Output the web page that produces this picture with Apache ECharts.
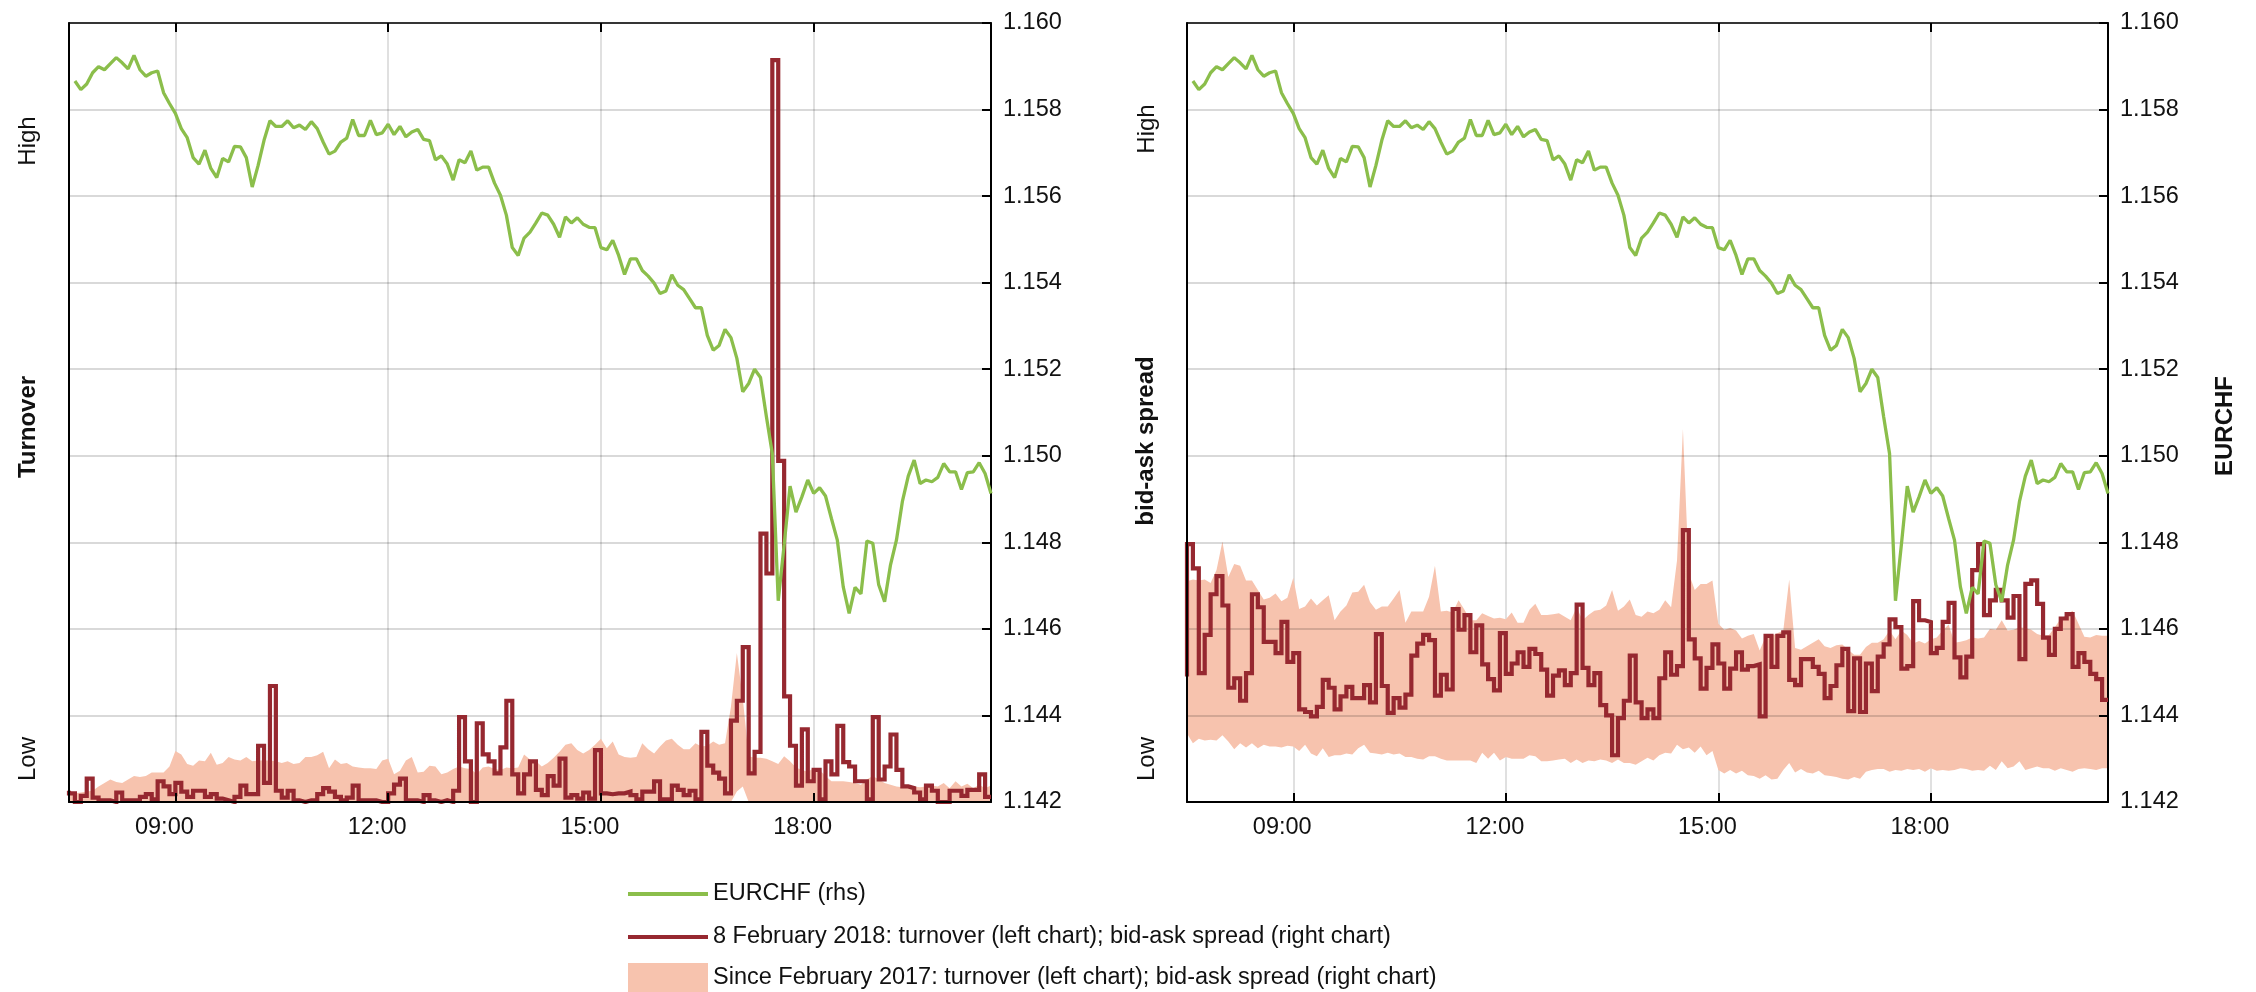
<!DOCTYPE html>
<html><head><meta charset="utf-8">
<script src="https://cdn.jsdelivr.net/npm/echarts@6/dist/echarts.min.js"></script>
<style>html,body{margin:0;padding:0;background:#fff}#c{width:2256px;height:992px}</style>
</head><body><div id="c"></div>
<script>
const times = [
"07:30","07:35","07:40","07:45","07:50","07:55",
"08:00","08:05","08:10","08:15","08:20","08:25","08:30","08:35","08:40","08:45","08:50","08:55",
"09:00","09:05","09:10","09:15","09:20","09:25","09:30","09:35","09:40","09:45","09:50","09:55",
"10:00","10:05","10:10","10:15","10:20","10:25","10:30","10:35","10:40","10:45","10:50","10:55",
"11:00","11:05","11:10","11:15","11:20","11:25","11:30","11:35","11:40","11:45","11:50","11:55",
"12:00","12:05","12:10","12:15","12:20","12:25","12:30","12:35","12:40","12:45","12:50","12:55",
"13:00","13:05","13:10","13:15","13:20","13:25","13:30","13:35","13:40","13:45","13:50","13:55",
"14:00","14:05","14:10","14:15","14:20","14:25","14:30","14:35","14:40","14:45","14:50","14:55",
"15:00","15:05","15:10","15:15","15:20","15:25","15:30","15:35","15:40","15:45","15:50","15:55",
"16:00","16:05","16:10","16:15","16:20","16:25","16:30","16:35","16:40","16:45","16:50","16:55",
"17:00","17:05","17:10","17:15","17:20","17:25","17:30","17:35","17:40","17:45","17:50","17:55",
"18:00","18:05","18:10","18:15","18:20","18:25","18:30","18:35","18:40","18:45","18:50","18:55",
"19:00","19:05","19:10","19:15","19:20","19:25","19:30","19:35","19:40","19:45","19:50","19:55",
"20:00","20:05","20:10","20:15","20:20","20:25","20:30"];
const tickLabels = ["09:00","12:00","15:00","18:00"];
const priceTicks = {min: 1.142, max: 1.160, step: 0.002};

// EURCHF rate (right-hand scale)
const eurchf = [null,
1.15866,1.15846,1.15859,1.15885,1.15899,1.15892,1.15906,1.15920,1.15908,1.15894,
1.15925,1.15892,1.15877,1.15885,1.15889,1.15839,1.15814,1.15791,1.15756,1.15735,
1.15689,1.15674,1.15706,1.15664,1.15643,1.15687,1.15679,1.15715,1.15714,1.15689,
1.15621,1.15671,1.15729,1.15774,1.15761,1.15761,1.15774,1.15758,1.15764,1.15754,
1.15772,1.15756,1.15725,1.15697,1.15704,1.15725,1.15734,1.15777,1.15740,1.15740,
1.15775,1.15742,1.15746,1.15766,1.15742,1.15761,1.15737,1.15748,1.15754,1.15731,
1.15728,1.15684,1.15693,1.15674,1.15637,1.15684,1.15677,1.15704,1.15660,1.15667,
1.15667,1.15630,1.15602,1.15556,1.15481,1.15463,1.15503,1.15517,1.15538,1.15561,
1.15556,1.15535,1.15505,1.15552,1.15538,1.15550,1.15535,1.15528,1.15527,1.15481,
1.15476,1.15498,1.15463,1.15419,1.15455,1.15455,1.15428,1.15415,1.15399,1.15375,
1.15381,1.15418,1.15394,1.15384,1.15363,1.15342,1.15342,1.15278,1.15244,1.15255,
1.15292,1.15273,1.15225,1.15148,1.15167,1.15200,1.15181,1.15090,1.15005,1.14665,
1.14794,1.14930,1.14870,1.14905,1.14944,1.14913,1.14926,1.14907,1.14855,1.14805,
1.14697,1.14636,1.14696,1.14681,1.14803,1.14798,1.14702,1.14663,1.14748,1.14805,
1.14894,1.14953,1.14990,1.14936,1.14944,1.14940,1.14950,1.14982,1.14963,1.14963,
1.14922,1.14961,1.14963,1.14984,1.14959,1.14913];

// Turnover on 8 Feb 2018 (index units, left chart); first entry = opening level
const turnover8Feb = [1.3,
1.0,0,0.7,2.7,0.5,0.2,0.2,0,1.1,0.2,
0.2,0.2,0.6,0.9,0.3,2.4,1.8,0.9,2.2,1.2,
0.6,1.3,1.3,0.6,0.9,0.4,0.2,0,0.6,1.9,
0.9,0.9,6.5,2.2,13.4,1.3,0.5,1.3,0.2,0,
0.2,0.2,0.9,1.6,1.2,0.6,0.2,0.5,1.9,0.2,
0.2,0.2,0,0,1.0,2.0,2.7,0.2,0.2,0,
0.8,0.2,0,0.2,0,1.3,9.8,4.7,0,9.1,
5.5,4.7,3.3,6.3,11.7,3.2,1.0,3.2,4.7,1.4,
0.8,3.0,1.9,5.0,0.5,0.8,0.4,1.1,0.4,6.0,
1.0,0.9,1.0,1.0,1.2,0.8,0.3,1.2,1.2,2.4,
0.3,0.3,1.9,1.4,0.8,1.3,0.3,8.1,4.2,3.4,
2.7,1.0,9.4,11.7,17.9,3.3,5.8,31.0,26.4,85.7,
39.4,12.2,6.5,1.9,8.4,2.4,3.7,0.3,4.7,3.2,
8.8,4.6,4.1,2.4,2.4,0.3,9.8,2.6,4.1,7.8,
3.7,1.8,1.6,1.1,0.3,1.9,1.3,0,0,1.3,
1.3,0.7,1.4,1.4,3.2,0.6];

// Turnover range since Feb 2017 (lower / upper edge)
const turnoverBandLow = [
0,0,0,0,0,0,0,0,0,0, 0,0,0,0,0,0,0,0,0,0, 0,0,0,0,0,0,0,0,0,0, 0,0,0,0,0,0,0,0,0,0,
0,0,0,0,0,0,0,0,0,0, 0,0,0,0,0,0,0,0,0,0, 0,0,0,0,0,0,0,0,0,0, 0,0,0,0,0,0,0,0,0,0,
0,0,0,0,0,0,0,0,0,0, 0,0,0,0,0,0,0,0,0,0, 0,0,0,0,0,0,0,0,0,0, 0,0,0,1.2,1.8,0,0,0,0,0,
0,0,0,0,0,0,0,0,0,0, 0,0,0,0,0,0,0,0,0,0, 0,0,0,0,0,0,0,0,0,0, 0,0,0,0,0,0,0];
const turnoverBandHigh = [
1.0,1.0,1.1,1.2,1.3,1.8,2.2,2.6,2.3,2.2,
2.6,3.0,2.9,3.0,3.4,3.4,3.4,4.1,5.9,5.5,
4.4,4.2,4.8,4.7,5.7,4.3,4.5,5.2,4.9,4.8,
5.2,4.7,4.8,4.8,4.8,4.7,4.5,4.7,4.4,4.5,
5.2,5.2,5.4,5.8,3.9,4.9,4.4,4.5,4.1,4.0,
3.9,3.9,3.8,4.8,5.0,3.2,3.6,4.8,5.2,3.4,
3.5,4.2,4.1,3.2,3.4,3.8,4.1,3.9,3.8,3.2,
4.0,4.1,3.8,3.7,4.0,3.9,4.0,5.5,4.9,4.7,
4.1,4.5,5.1,5.8,6.6,6.8,6.0,5.6,6.0,6.6,
7.3,6.2,7.0,5.5,5.2,5.1,5.2,6.8,6.1,5.6,
6.4,7.1,7.3,6.6,6.1,6.1,6.8,6.4,6.5,7.0,
6.6,6.8,11.0,17.2,12.0,5.3,5.1,5.1,5.0,4.7,
4.4,5.3,4.7,4.0,3.7,3.5,3.9,3.7,3.0,2.4,
2.4,2.4,2.3,2.2,2.0,2.6,3.0,2.6,2.2,2.0,
1.8,1.7,1.7,1.8,1.7,1.8,1.9,1.8,2.2,1.6,
2.4,1.8,2.1,1.6,2.0,1.6,1.9];

// Bid-ask spread on 8 Feb 2018 (index units, right chart); first entry = opening level
const spread8Feb = [14.5,
29.8,27.0,14.9,19.3,24.0,26.1,22.7,13.2,14.3,11.7,
14.9,24.0,22.5,18.5,18.5,17.2,20.8,16.2,17.2,10.7,
10.4,9.9,11.0,14.1,13.2,10.7,12.2,13.3,12.0,12.0,
13.5,11.5,19.4,13.4,10.3,12.0,10.9,12.4,16.9,18.3,
19.3,18.7,12.3,14.7,13.0,22.3,19.9,21.6,17.3,20.4,
15.9,14.2,12.9,19.5,14.8,16.0,17.3,15.6,17.7,17.1,
15.3,12.3,14.6,15.2,13.5,14.9,22.8,15.5,13.5,14.9,
11.2,10.0,5.4,9.7,11.7,16.9,11.5,9.7,10.7,9.7,
14.3,17.3,14.7,15.7,31.4,18.8,16.6,13.1,15.5,18.2,
16.0,13.1,15.4,17.3,15.3,15.7,15.9,9.9,19.2,15.6,
19.2,19.6,14.1,13.5,16.5,16.5,15.6,14.8,12.0,13.4,
15.8,17.7,10.5,16.6,10.4,16.0,12.8,16.8,18.2,21.1,
20.2,15.4,15.7,23.2,21.0,20.8,17.2,17.8,20.8,23.0,
16.7,14.4,16.8,26.8,29.8,21.6,23.3,24.5,23.3,21.3,
23.8,16.5,25.2,25.6,22.9,19.0,17.0,20.0,21.2,21.7,
15.6,17.2,16.2,14.8,14.2,11.8];

// Bid-ask spread range since Feb 2017 (lower / upper edge)
const spreadBandLow = [
7.9,6.8,7.3,7.1,7.2,7.1,7.7,7.0,6.1,6.8,
6.3,6.8,6.2,6.6,6.4,6.4,6.3,6.5,6.4,5.9,
6.6,5.6,5.3,6.2,5.2,5.4,5.4,5.6,5.5,6.2,
6.6,5.7,5.6,5.5,5.7,5.5,5.6,5.2,5.2,5.0,
4.9,5.3,5.3,5.0,4.8,4.8,4.8,4.8,4.8,4.5,
5.7,5.0,5.7,4.8,5.2,5.0,5.0,5.0,5.4,5.3,
4.7,4.7,4.8,4.9,5.0,4.5,4.9,4.5,4.8,4.7,
4.9,4.8,4.5,4.9,4.5,4.5,4.3,4.7,5.1,4.8,
5.4,5.7,5.6,6.6,6.1,6.3,5.7,6.4,5.4,5.9,
3.7,3.3,3.7,3.3,3.6,3.1,3.0,2.7,3.1,2.6,
2.7,3.7,4.5,3.4,3.8,3.4,3.3,3.6,3.1,3.0,
2.9,2.7,2.6,2.9,2.7,3.5,3.7,3.8,3.8,3.5,
3.7,3.6,3.8,3.7,3.8,3.5,3.9,3.6,3.7,3.6,
3.7,3.9,3.8,3.6,3.7,3.6,4.2,3.7,4.7,3.9,
4.1,4.7,3.7,3.9,4.1,3.9,3.9,3.6,3.9,3.7,
3.5,3.8,3.9,3.8,3.7,3.9,3.9];
const spreadBandHigh = [
25.5,25.7,25.6,25.7,25.3,26.8,30.1,26.0,27.5,27.3,
25.6,25.6,24.5,23.4,23.6,24.1,23.2,23.6,25.9,22.3,
22.6,23.5,22.7,23.3,23.9,21.0,22.0,22.7,24.2,24.3,
25.1,23.1,22.2,22.6,22.6,23.5,24.5,20.7,22.0,22.0,
22.0,23.7,27.3,22.0,22.1,21.9,23.3,22.2,21.0,21.0,
21.8,21.5,21.2,21.3,21.1,21.9,20.7,20.7,22.2,22.9,
21.6,21.6,21.7,21.8,21.4,21.0,22.5,21.0,21.6,22.1,
22.2,22.7,24.5,22.1,22.6,23.4,21.6,21.4,22.0,21.8,
22.2,23.3,22.5,27.9,43.1,26.4,24.5,25.2,25.2,25.6,
20.6,19.9,20.1,19.8,18.9,19.2,19.4,17.5,19.1,19.2,
19.5,19.8,25.7,17.8,17.6,18.0,18.4,18.8,18.0,17.8,
18.1,18.2,17.6,17.0,17.0,17.9,18.4,18.4,18.8,19.8,
18.8,19.8,19.3,18.3,18.6,18.3,18.8,19.0,19.8,20.5,
18.4,18.5,18.7,19.0,18.9,19.0,20.0,19.9,21.0,19.8,
19.9,20.2,20.1,19.9,19.4,19.2,19.3,20.2,21.2,21.6,
22.1,20.6,19.1,19.0,19.3,19.2,19.2];

const NAME_FX = 'EURCHF (rhs)';
const NAME_DAY = '8 February 2018: turnover (left chart); bid-ask spread (right chart)';
const NAME_BAND = 'Since February 2017: turnover (left chart); bid-ask spread (right chart)';

const GREEN = '#8bbe4b', RED = '#962830', SALMON = '#f7c3ae';
const FONT = '"Liberation Sans", Arial, Helvetica, sans-serif';
const isTick = (i, v) => tickLabels.indexOf(v) >= 0;

function bandWidth(lo, hi) { return hi.map((h, i) => +(h - lo[i]).toFixed(3)); }

function xAxes(gridIndex) {
  return [
    { type: 'category', gridIndex, data: times, boundaryGap: false, position: 'bottom', z: 5,
      axisLine: { lineStyle: { color: '#000', width: 2 } },
      axisTick: { inside: true, length: 9, interval: isTick, lineStyle: { color: '#000', width: 2 } },
      axisLabel: { interval: isTick, margin: 14, padding: [0, 22, 0, 0], color: '#111', fontSize: 23.5, fontFamily: FONT },
      splitLine: { show: false } },
    { type: 'category', gridIndex, data: times, boundaryGap: false, position: 'top', z: 0,
      axisLine: { lineStyle: { color: '#000', width: 1.5 } },
      axisTick: { inside: true, length: 9, interval: isTick, lineStyle: { color: '#000', width: 2 } },
      axisLabel: { show: false },
      splitLine: { show: true, interval: isTick, lineStyle: { color: '#e0e0e0', width: 2 } } }
  ];
}
function yAxes(gridIndex) {
  return [
    { type: 'value', gridIndex, position: 'left', min: 0, max: 90, z: 5,
      axisLine: { show: true, lineStyle: { color: '#000', width: 2 } },
      axisTick: { show: false }, axisLabel: { show: false }, splitLine: { show: false } },
    { type: 'value', gridIndex, position: 'right', min: priceTicks.min, max: priceTicks.max, interval: priceTicks.step, z: 3,
      axisLine: { show: true, lineStyle: { color: '#000', width: 2 } },
      axisTick: { show: true, inside: true, length: 9, lineStyle: { color: '#000', width: 2 } },
      axisLabel: { formatter: v => v.toFixed(3), margin: 12, padding: [0, 0, 13, 0], color: '#111', fontSize: 23.5, fontFamily: FONT },
      splitLine: { show: true, lineStyle: { color: 'rgba(0,0,0,0.15)', width: 2 } } }
  ];
}
function panelSeries(xi, yLeft, yRight, stackId, lo, hi, day) {
  return [
    { type: 'line', name: 'lower-' + stackId, xAxisIndex: xi, yAxisIndex: yLeft, stack: stackId, data: lo,
      symbol: 'none', lineStyle: { opacity: 0, width: 0 }, silent: true, z: 2 },
    { type: 'line', name: NAME_BAND, xAxisIndex: xi, yAxisIndex: yLeft, stack: stackId, data: bandWidth(lo, hi),
      symbol: 'none', color: SALMON, lineStyle: { width: 0, opacity: 0 }, areaStyle: { color: SALMON, opacity: 1 }, z: 2 },
    { type: 'line', name: NAME_DAY, xAxisIndex: xi, yAxisIndex: yLeft, data: day, step: 'start',
      symbol: 'none', color: RED, lineStyle: { color: RED, width: 4.2, join: 'miter' }, z: 4 },
    { type: 'line', name: NAME_FX, xAxisIndex: xi, yAxisIndex: yRight, data: eurchf,
      symbol: 'none', color: GREEN, lineStyle: { color: GREEN, width: 3.3 }, z: 4 }
  ];
}
function legendRow(name, color, top, h) {
  return { show: true, selectedMode: false, left: 628, top, padding: 0, itemWidth: 80, itemHeight: h,
    data: [{ name, icon: 'rect', itemStyle: { color, borderWidth: 0 } }],
    textStyle: { fontSize: 23.5, fontFamily: FONT, color: '#111' } };
}
function vText(text, x, y, bold) {
  return { type: 'text', x, y, rotation: Math.PI / 2, z: 10,
    style: { text, fill: '#111', fontSize: 24, fontWeight: bold ? 'bold' : 'normal', fontFamily: FONT, align: 'center', verticalAlign: 'middle' } };
}

const chart = echarts.init(document.getElementById('c'), null, { renderer: 'canvas' });
chart.setOption({
  animation: false,
  backgroundColor: '#fff',
  grid: [
    { left: 69, right: 1265, top: 23, bottom: 190 },
    { left: 1187, right: 148, top: 23, bottom: 190 }
  ],
  xAxis: [...xAxes(0), ...xAxes(1)],
  yAxis: [...yAxes(0), ...yAxes(1)],
  legend: [
    legendRow(NAME_FX, GREEN, 882, 4),
    legendRow(NAME_DAY, RED, 925, 4),
    legendRow(NAME_BAND, SALMON, 963, 30)
  ],
  graphic: [
    vText('High', 28, 141, false),
    vText('Low', 28, 759, false),
    vText('Turnover', 28, 427, true),
    vText('High', 1147, 129, false),
    vText('Low', 1147, 759, false),
    vText('bid-ask spread', 1146, 441, true),
    vText('EURCHF', 2225, 426, true)
  ],
  series: [
    ...panelSeries(0, 0, 1, 'L', turnoverBandLow, turnoverBandHigh, turnover8Feb),
    ...panelSeries(2, 2, 3, 'R', spreadBandLow, spreadBandHigh, spread8Feb)
  ]
});
</script></body></html>
